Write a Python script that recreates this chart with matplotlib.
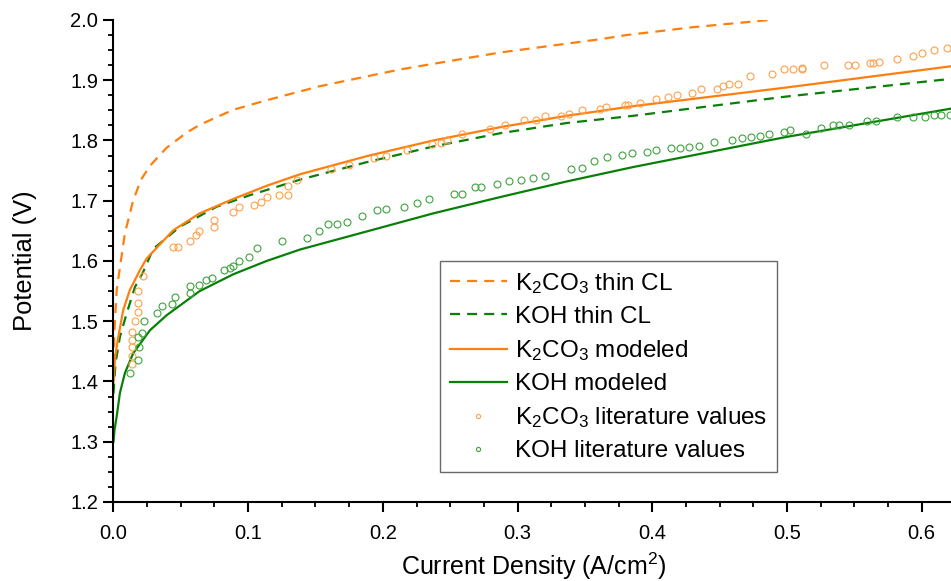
import numpy as np
import matplotlib.pyplot as plt

plt.rcParams['font.family'] = ['Liberation Sans', 'DejaVu Sans']
plt.rcParams['mathtext.fontset'] = 'custom'
plt.rcParams['mathtext.rm'] = 'Liberation Sans'
plt.rcParams['mathtext.it'] = 'Liberation Sans'

# K2CO3 thin CL (dashed orange)
k2co3_thin_x = [0.0, 0.0006, 0.0024, 0.0085, 0.0147, 0.0205, 0.0271, 0.0395, 0.0543, 0.064,
                0.089, 0.114, 0.153, 0.213, 0.287, 0.361, 0.381, 0.43, 0.487]
k2co3_thin_y = [1.40, 1.48, 1.552, 1.646, 1.701, 1.735, 1.758, 1.788, 1.813, 1.826,
                1.851, 1.867, 1.890, 1.918, 1.946, 1.968, 1.975, 1.988, 2.0]

# KOH thin CL (dashed green)
koh_thin_x = [0.0, 0.0015, 0.0048, 0.0098, 0.016, 0.0221, 0.0295, 0.0494, 0.0766, 0.101,
              0.1385, 0.188, 0.2374, 0.287, 0.3365, 0.386, 0.4998, 0.6247]
koh_thin_y = [1.38, 1.43, 1.474, 1.513, 1.557, 1.582, 1.620, 1.657, 1.690, 1.709,
              1.735, 1.764, 1.790, 1.812, 1.829, 1.841, 1.873, 1.903]

# K2CO3 modeled (solid orange)
k2co3_mod_x = [0.0, 0.0012, 0.0036, 0.0073, 0.0122, 0.0197, 0.0246, 0.0444, 0.064, 0.089,
               0.114, 0.1386, 0.188, 0.2374, 0.287, 0.3365, 0.386, 0.4998, 0.6247]
k2co3_mod_y = [1.40, 1.44, 1.474, 1.519, 1.552, 1.585, 1.604, 1.651, 1.679, 1.703,
               1.725, 1.744, 1.774, 1.800, 1.822, 1.841, 1.857, 1.888, 1.924]

# KOH modeled (solid green)
koh_mod_x = [0.0, 0.0008, 0.0024, 0.0048, 0.0085, 0.0147, 0.0271, 0.0395, 0.064, 0.089,
             0.1137, 0.1385, 0.188, 0.2374, 0.287, 0.3365, 0.386, 0.4998, 0.6247]
koh_mod_y = [1.30, 1.32, 1.342, 1.381, 1.414, 1.447, 1.485, 1.510, 1.550, 1.578,
             1.600, 1.619, 1.649, 1.679, 1.706, 1.732, 1.756, 1.806, 1.854]

# K2CO3 literature values
k2co3_lit_x = [0.014, 0.014, 0.014, 0.014, 0.014, 0.016, 0.0184, 0.0184, 0.0184, 0.0221,
               0.0444, 0.0476, 0.0568, 0.0612, 0.0637, 0.0748, 0.0748, 0.0885, 0.0934,
               0.1043, 0.1093, 0.1137, 0.1231, 0.1293, 0.1293, 0.1365, 0.1615, 0.175,
               0.1934, 0.2023, 0.218, 0.2362, 0.2431, 0.2474, 0.259, 0.2795, 0.2906,
               0.3048, 0.3137, 0.3203, 0.332, 0.3384, 0.3476, 0.3612, 0.3656, 0.3797,
               0.3822, 0.391, 0.4025, 0.4114, 0.4181, 0.4297, 0.4364, 0.4478, 0.4523,
               0.4567, 0.4634, 0.4728, 0.4889, 0.4975, 0.5045, 0.5114, 0.5114, 0.5275,
               0.5453, 0.5503, 0.5616, 0.5641, 0.5683, 0.5817, 0.5933, 0.6002, 0.6094,
               0.6186]
k2co3_lit_y = [1.429, 1.443, 1.457, 1.469, 1.482, 1.500, 1.516, 1.531, 1.550, 1.575,
               1.624, 1.624, 1.634, 1.643, 1.649, 1.656, 1.668, 1.681, 1.690,
               1.693, 1.698, 1.706, 1.709, 1.709, 1.724, 1.734, 1.753, 1.759,
               1.771, 1.774, 1.784, 1.794, 1.796, 1.800, 1.810, 1.819, 1.825,
               1.834, 1.834, 1.841, 1.841, 1.844, 1.851, 1.853, 1.856, 1.859,
               1.859, 1.863, 1.869, 1.872, 1.875, 1.878, 1.885, 1.885, 1.890,
               1.894, 1.894, 1.907, 1.910, 1.919, 1.919, 1.921, 1.918, 1.925,
               1.925, 1.925, 1.929, 1.929, 1.931, 1.935, 1.941, 1.945, 1.951,
               1.954]

# KOH literature values
koh_lit_x = [0.0122, 0.0184, 0.0189, 0.0184, 0.0209, 0.0229, 0.032, 0.0362, 0.0432, 0.0457,
             0.0568, 0.0568, 0.0635, 0.0684, 0.0729, 0.082, 0.0865, 0.0889, 0.0934, 0.1004,
             0.1068, 0.1251, 0.1434, 0.1523, 0.1592, 0.1662, 0.1731, 0.1843, 0.1956, 0.2023,
             0.2159, 0.2251, 0.2342, 0.2526, 0.259, 0.2684, 0.2728, 0.2845, 0.2934, 0.3025,
             0.3117, 0.3206, 0.3394, 0.348, 0.357, 0.3661, 0.3777, 0.3847, 0.3958, 0.4027,
             0.4139, 0.4206, 0.4275, 0.4344, 0.4458, 0.4594, 0.4664, 0.4733, 0.48, 0.4869,
             0.498, 0.5025, 0.5141, 0.5252, 0.5344, 0.5388, 0.5458, 0.5594, 0.5661, 0.5819,
             0.5933, 0.6025, 0.6091, 0.6141, 0.621]
koh_lit_y = [1.414, 1.436, 1.457, 1.474, 1.481, 1.500, 1.513, 1.525, 1.529, 1.541,
             1.547, 1.559, 1.560, 1.568, 1.572, 1.585, 1.588, 1.591, 1.600, 1.607,
             1.622, 1.634, 1.638, 1.650, 1.662, 1.662, 1.665, 1.675, 1.685, 1.687,
             1.690, 1.697, 1.703, 1.712, 1.712, 1.722, 1.722, 1.728, 1.732, 1.734,
             1.738, 1.741, 1.753, 1.754, 1.766, 1.772, 1.776, 1.779, 1.781, 1.784,
             1.788, 1.788, 1.789, 1.791, 1.798, 1.801, 1.804, 1.805, 1.807, 1.810,
             1.814, 1.817, 1.810, 1.820, 1.826, 1.826, 1.826, 1.833, 1.833, 1.839,
             1.839, 1.839, 1.842, 1.842, 1.842]

orange = '#ff7f0e'
green = '#088008'
orange_pt = '#ffa14a'
green_pt = '#3fa33f'

fig = plt.figure(figsize=(9.51, 5.81), dpi=100)
ax = fig.add_axes([0.1193, 0.136, 0.8848, 0.8296])

dash = (0, (4.5, 3.2))
ax.plot(k2co3_thin_x, k2co3_thin_y, color=orange, lw=1.6, ls=dash, label='K$_2$CO$_3$ thin CL')
ax.plot(koh_thin_x, koh_thin_y, color=green, lw=1.6, ls=dash, label='KOH thin CL')
ax.plot(k2co3_mod_x, k2co3_mod_y, color=orange, lw=1.6, label='K$_2$CO$_3$ modeled')
ax.plot(koh_mod_x, koh_mod_y, color=green, lw=1.6, label='KOH modeled')
ax.plot(k2co3_lit_x, k2co3_lit_y, ls='none', marker='o', ms=5, mfc='none', mec=orange_pt,
        mew=0.8, label='K$_2$CO$_3$ literature values')
ax.plot(koh_lit_x, koh_lit_y, ls='none', marker='o', ms=5, mfc='none', mec=green_pt,
        mew=0.8, label='KOH literature values')

ax.set_xlim(0, 0.6247)
ax.set_ylim(1.2, 2.0)
ax.set_xticks(np.arange(0, 0.61, 0.1))
ax.set_xticks(np.arange(0, 0.625, 0.025), minor=True)
ax.set_yticks(np.arange(1.2, 2.01, 0.1))
ax.set_yticks(np.arange(1.2, 2.001, 0.025), minor=True)
ax.xaxis.set_major_formatter(plt.FormatStrFormatter('%.1f'))
ax.yaxis.set_major_formatter(plt.FormatStrFormatter('%.1f'))

for s in ['left', 'bottom', 'right']:
    ax.spines[s].set_linewidth(1.5)
ax.spines['top'].set_visible(False)

ax.tick_params(which='major', direction='out', length=7, width=1.5, labelsize=14.5)
ax.tick_params(which='minor', direction='out', length=3.6, width=1.3)
ax.tick_params(axis='y', which='both', right=True, labelright=False)
ax.tick_params(axis='y', which='major', pad=4)
ax.tick_params(axis='x', which='major', pad=9)

ax.set_xlabel('Current Density (A/cm$^2$)', fontsize=18, labelpad=5)
ax.set_ylabel('Potential (V)', fontsize=18.4, labelpad=24)

leg = ax.legend(loc='upper left', bbox_to_anchor=(0.388, 0.5), borderaxespad=0,
                fontsize=17.5, frameon=True, fancybox=False, edgecolor='#444444',
                handlelength=2.35, handletextpad=0.35, labelspacing=0.42,
                borderpad=0.4, markerscale=0.6)
leg.get_frame().set_linewidth(1.0)

fig.savefig('out.png', dpi=100)
